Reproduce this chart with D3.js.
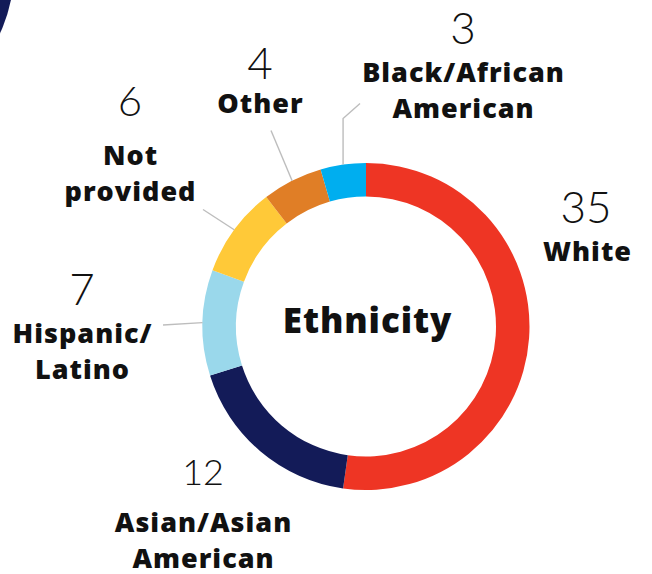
<!DOCTYPE html>
<html>
<head>
<meta charset="utf-8">
<script src="https://cdn.jsdelivr.net/npm/d3@7"></script>
<style>
  html, body { margin: 0; padding: 0; background: #ffffff; }
  svg { display: block; }
</style>
</head>
<body>
<svg id="chart" width="652" height="574"></svg>
<script>
// Ethnicity breakdown (counts), in clockwise order from 12 o'clock
const categories = ["White", "Asian/Asian American", "Hispanic/ Latino", "Not provided", "Other", "Black/African American"];
const values = [35, 12, 7, 6, 4, 3];
const colors = ["#EE3524", "#131B58", "#9AD8EB", "#FFC938", "#E07E26", "#00AEEF"];
// Multi-line label text for each category
const labelLines = [
  ["White"],
  ["Asian/Asian", "American"],
  ["Hispanic/", "Latino"],
  ["Not", "provided"],
  ["Other"],
  ["Black/African", "American"]
];

const width = 652, height = 574;
const cx = 366, cy = 326.5;
const outerR = 163.5, innerR = 130;

const svg = d3.select("#chart");

// decorative navy disc peeking in from the top-left corner
svg.append("circle")
  .attr("cx", -136).attr("cy", -30).attr("r", 150)
  .attr("fill", "#131B58");

const pie = d3.pie().sort(null).value(d => d.value);
const arcs = pie(values.map((v, i) => ({ value: v, name: categories[i], i })));
const arc = d3.arc().innerRadius(innerR).outerRadius(outerR);
const edge = d3.arc().innerRadius(outerR).outerRadius(outerR);

const g = svg.append("g").attr("transform", `translate(${cx},${cy})`);

g.selectAll("path.slice")
  .data(arcs)
  .enter().append("path")
  .attr("class", "slice")
  .attr("d", arc)
  .attr("fill", d => colors[d.data.i]);

// label layout: number anchor, number size, first text baseline, leader end point (relative to centre)
const layout = [
  { num: [220, -104], size: 44, text: [221, -66], lead: null },
  { num: [-163, 158], size: 36, text: [-163, 205], lead: null },
  { num: [-284, -22], size: 44, text: [-284, 16], lead: [-203, -1.5] },
  { num: [-236, -211], size: 42, text: [-236, -162], lead: [-163, -117] },
  { num: [-106, -248], size: 44, text: [-106, -214], lead: [-95, -196] },
  { num: [97, -283], size: 44, text: [97, -245], lead: [-6, -223] }
];

const leaders = svg.append("g").attr("transform", `translate(${cx},${cy})`);
arcs.forEach(a => {
  const L = layout[a.data.i];
  if (!L.lead) return;
  const [sx, sy] = edge.centroid(a);
  let pts = [[sx, sy], L.lead];
  if (a.data.i === 5) {
    // Black/African American: vertical run then a short diagonal
    pts = [[sx, sy], [sx, -208], L.lead];
  }
  leaders.append("path")
    .attr("d", d3.line()(pts))
    .attr("fill", "none")
    .attr("stroke", "#BDBDBD")
    .attr("stroke-width", 1.4);
});

const labels = svg.append("g").attr("transform", `translate(${cx},${cy})`);
arcs.forEach(a => {
  const i = a.data.i;
  const L = layout[i];
  labels.append("text")
    .attr("x", L.num[0]).attr("y", L.num[1])
    .attr("text-anchor", "middle")
    .attr("font-family", "Lato, sans-serif")
    .attr("font-weight", 300)
    .attr("font-size", L.size)
    .attr("fill", "#111")
    .text(values[i]);
  const t = labels.append("text")
    .attr("text-anchor", "middle")
    .attr("font-family", "'Open Sans', sans-serif")
    .attr("font-weight", 800)
    .attr("font-size", 27)
    .attr("letter-spacing", 1)
    .attr("fill", "#111");
  labelLines[i].forEach((line, j) => {
    t.append("tspan")
      .attr("x", L.text[0] + 0.5)
      .attr("y", L.text[1] + j * 36)
      .text(line);
  });
});

// centre title
svg.append("text")
  .attr("x", cx + 1.5).attr("y", 333)
  .attr("text-anchor", "middle")
  .attr("font-family", "'Open Sans', sans-serif")
  .attr("font-weight", 800)
  .attr("font-size", 35)
  .attr("letter-spacing", 0.9)
  .attr("fill", "#111")
  .text("Ethnicity");
</script>
</body>
</html>
